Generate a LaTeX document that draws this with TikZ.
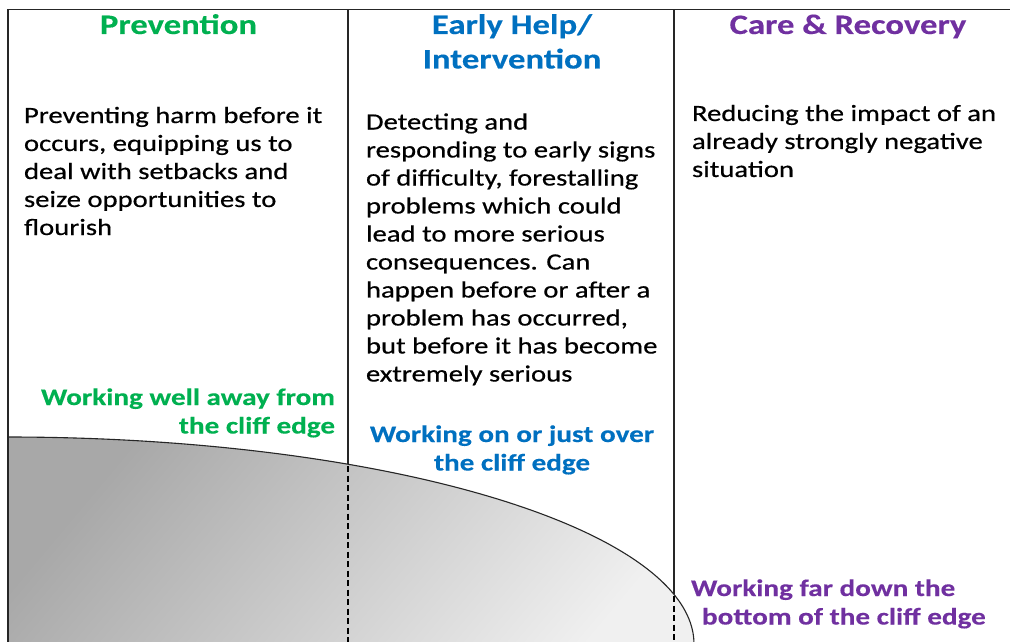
\documentclass[tikz,border=0pt]{standalone}
\usepackage{fontspec}
\setmainfont{Carlito}[FakeStretch=1.23, UprightFeatures={FakeBold=0.5}, BoldFeatures={FakeBold=0.3}]
\definecolor{prevgreen}{HTML}{00B050}
\definecolor{earlyblue}{HTML}{0070C0}
\definecolor{carepurple}{HTML}{7030A0}
\definecolor{linegray}{HTML}{262626}
\definecolor{cliffdark}{HTML}{A8A8A8}
\definecolor{clifflight}{HTML}{F0F0F0}
\newcommand\bodyfont{\fontsize{23.3}{28}\selectfont}
\newcommand\headfont{\bfseries\fontsize{28.2}{34.5}\selectfont}
\newcommand\labfont{\bfseries\fontsize{23.7}{28.5}\selectfont}
\begin{document}
\begin{tikzpicture}[x=1pt,y=-1pt,
  frame/.style={draw=linegray,line width=1.6pt},
  dashline/.style={draw=black,line width=1.9pt,dash pattern=on 6pt off 3.5pt},
  cliffline/.style={draw=linegray,line width=1.1pt},
  txt/.style={inner sep=0pt,outer sep=0pt},
]
\useasboundingbox (0,0) rectangle (1010,642);
\fill[white] (0,0) rectangle (1010,642);
\begin{scope}
\clip (0,0) rectangle (1010,642);
\shade[top color=cliffdark, bottom color=clifflight, shading angle=50]
  plot[domain=0:90, samples=90, variable=\t] ({8+686*sin(\t)}, {644-207*cos(\t)})
  -- (694,670) -- (8,670) -- cycle;
\draw[cliffline]
  plot[domain=0:90, samples=90, variable=\t] ({8+686*sin(\t)}, {644-207*cos(\t)})
  -- (694,670);
\draw[dashline] (348,466) -- (348,650);
\draw[dashline] (674,596) -- (674,650);
\end{scope}
% frame
\draw[frame] (8,660) -- (8,9.5) -- (1012,9.5);
\draw[frame] (348,9.5) -- (348,464.2);
\draw[frame] (674,9.5) -- (674,594.4);
% headings
\node[txt,anchor=base,text=prevgreen] (hprev) at (178.5,34) {\parbox[t]{330pt}{\centering\headfont Prevention}};
\node[txt,anchor=base,text=earlyblue] (hearly) at (512,34) {\parbox[t]{320pt}{\centering\headfont Early Help/\\Intervention}};
\node[txt,anchor=base,text=carepurple] (hcare) at (848,34) {\parbox[t]{330pt}{\centering\headfont Care \& Recovery}};
% body texts
\node[txt,anchor=base west] (bprev) at (24,123) {\parbox[t]{330pt}{\raggedright\bodyfont
Preventing harm before it\\
occurs, equipping us to\\
deal with setbacks and\\
seize opportunities to\\
flourish}};
\node[txt,anchor=base west] (bearly) at (366,129.5) {\parbox[t]{310pt}{\raggedright\bodyfont
Detecting and\\
responding to early signs\\
of difficulty, forestalling\\
problems which could\\
lead to more serious\\
consequences. Can\\
happen before or after a\\
problem has occurred,\\
but before it has become\\
extremely serious}};
\node[txt,anchor=base west] (bcare) at (692,121) {\parbox[t]{320pt}{\raggedright\bodyfont
Reducing the impact of an\\
already strongly negative\\
situation}};
% cliff labels
\node[txt,anchor=base east,text=prevgreen] (lprev) at (335,405) {\parbox[t]{320pt}{\raggedleft\labfont
Working well away from\\
the cliff edge}};
\node[txt,anchor=base,text=earlyblue] (learly) at (512,442) {\parbox[t]{310pt}{\centering\labfont
Working on or just over\\
the cliff edge}};
\node[txt,anchor=base west,text=carepurple] (lcare) at (691,596) {\parbox[t]{320pt}{\raggedright\labfont
Working far down the\\
\hspace*{11pt}bottom of the cliff edge}};
\end{tikzpicture}
\end{document}
